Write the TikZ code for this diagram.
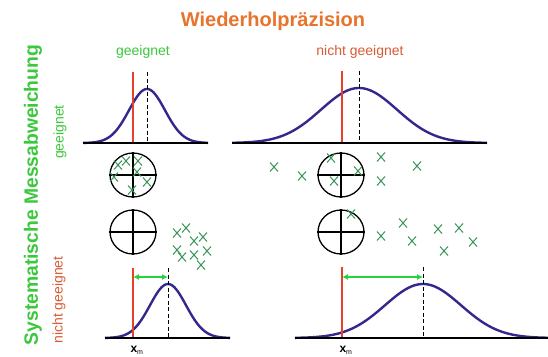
\documentclass[tikz,border=0pt]{standalone}
\usepackage{fontspec}
\setmainfont{Liberation Sans}
\usetikzlibrary{arrows.meta,shapes.geometric,shapes.misc}
\definecolor{titleorange}{RGB}{232,116,44}
\definecolor{okgreen}{RGB}{60,200,60}
\definecolor{badred}{RGB}{216,92,56}
\definecolor{linered}{RGB}{232,64,42}
\definecolor{curveblue}{RGB}{52,40,140}
\definecolor{crossgreen}{RGB}{58,150,90}
\definecolor{arrowgreen}{RGB}{40,210,60}
\tikzset{
  curve/.style={curveblue, line width=2.4pt, line join=round},
  baseline/.style={black, line width=2.8pt},
  redline/.style={linered, line width=2.4pt},
  meanline/.style={black, line width=0.9pt, dash pattern=on 4pt off 2.5pt},
  devarrow/.style={arrowgreen, line width=1.5pt, {Latex[length=6pt,width=6pt]}-{Latex[length=6pt,width=6pt]}},
  target/.style={ellipse, draw, line width=1.3pt, minimum width=46pt, minimum height=44pt, inner sep=0pt},
  hit/.style={cross out, draw=crossgreen, line width=1pt, minimum width=7pt, minimum height=8pt, inner sep=0pt},
  cross/.style={line width=1.3pt},
  lbl/.style={inner sep=0pt, font=\fontsize{14}{16}\selectfont},
}
\begin{document}
\begin{tikzpicture}[x=1pt,y=-1pt]
\useasboundingbox (0,0) rectangle (548,356);
\fill[white] (0,0) rectangle (548,356);

% titles
\node[inner sep=0pt, text=titleorange, font=\fontsize{20}{24}\selectfont\bfseries] (title) at (273,21) {Wiederholpräzision};
\node[lbl, text=okgreen] (colok) at (143,52) {geeignet};
\node[lbl, text=badred] (colbad) at (360,52) {nicht geeignet};
\node[inner sep=0pt, rotate=90, text=okgreen, font=\fontsize{19.3}{22}\selectfont\bfseries] (sysmess) at (33,195) {Systematische Messabweichung};
\node[lbl, rotate=90, text=okgreen] (rowok) at (60,132) {geeignet};
\node[lbl, rotate=90, text=badred] (rowbad) at (59,300) {nicht geeignet};

% ---------- top left ----------
\coordinate (bl1a) at (83,143); \coordinate (bl1b) at (208,143);
\draw[curve] plot[domain=-3.55:3.4, samples=90] ({147+18*\x},{143-54*exp(-\x*\x/2)});
\coordinate (r1t) at (133,72); \coordinate (r1b) at (133,143);
\coordinate (m1t) at (147,72); \coordinate (m1b) at (147,143);
\draw[redline] (r1t) -- (r1b);
\draw[meanline] (m1t) -- (m1b);
\draw[baseline] (bl1a) -- (bl1b);

% ---------- top right ----------
\coordinate (bl2a) at (232,143); \coordinate (bl2b) at (487,143);
\draw[curve] plot[domain=-3.34:3.37, samples=120] ({359+38*\x},{143-55*exp(-\x*\x/2)});
\coordinate (r2t) at (342,71); \coordinate (r2b) at (342,143);
\coordinate (m2t) at (359,71); \coordinate (m2b) at (359,143);
\draw[redline] (r2t) -- (r2b);
\draw[meanline] (m2t) -- (m2b);
\draw[baseline] (bl2a) -- (bl2b);

% ---------- bottom left ----------
\coordinate (bl3a) at (105,338); \coordinate (bl3b) at (230,338);
\draw[curve] plot[domain=-3.5:3.45, samples=90] ({168+18*\x},{338-54*exp(-\x*\x/2)});
\coordinate (r3t) at (133,268); \coordinate (r3b) at (133,338);
\coordinate (m3t) at (168,268); \coordinate (m3b) at (168,338);
\draw[redline] (r3t) -- (r3b);
\draw[meanline] (m3t) -- (m3b);
\draw[baseline] (bl3a) -- (bl3b);
\coordinate (a3l) at (133,277); \coordinate (a3r) at (168,277);
\draw[devarrow] (a3l) -- (a3r);
\node[inner sep=0pt, font=\fontsize{12}{14}\selectfont] (xm1) at (137,350) {\textbf{x}\textsubscript{\fontsize{7}{8}\selectfont m}};

% ---------- bottom right ----------
\coordinate (bl4a) at (295,338); \coordinate (bl4b) at (548,338);
\draw[curve] plot[domain=-3.37:3.29, samples=120] ({423+38*\x},{338-54*exp(-\x*\x/2)});
\coordinate (r4t) at (342,267); \coordinate (r4b) at (342,338);
\coordinate (m4t) at (423,267); \coordinate (m4b) at (423,338);
\draw[redline] (r4t) -- (r4b);
\draw[meanline] (m4t) -- (m4b);
\draw[baseline] (bl4a) -- (bl4b);
\coordinate (a4l) at (342,277); \coordinate (a4r) at (423,277);
\draw[devarrow] (a4l) -- (a4r);
\node[inner sep=0pt, font=\fontsize{12}{14}\selectfont] (xm2) at (346,350) {\textbf{x}\textsubscript{\fontsize{7}{8}\selectfont m}};

% ---------- targets ----------
\node[target] (t1) at (133,175) {};
\node[target] (t2) at (133,232) {};
\node[target] (t3) at (341,175) {};
\node[target] (t4) at (341,232) {};
\foreach \t in {t1,t2,t3,t4}{
  \draw[cross] (\t.north) -- (\t.south);
  \draw[cross] (\t.west) -- (\t.east);
}

% hits top left
\foreach \p [count=\i] in {(118,165),(126,161),(138,161),(137,172),(114,177),(147,182),(132,190)}
  \node[hit] (ha\i) at \p {};
% hits bottom left
\foreach \p [count=\i] in {(177,233),(186,228),(194,241),(203,237),(177,250),(182,257),(194,255),(207,251),(201,265)}
  \node[hit] (hb\i) at \p {};
% hits top right
\foreach \p [count=\i] in {(274,167),(302,176),(331,158),(358,171),(334,181),(381,157),(381,181),(417,166)}
  \node[hit] (hc\i) at \p {};
% hits bottom right
\foreach \p [count=\i] in {(351,214),(381,236),(403,223),(412,241),(438,229),(459,228),(444,251),(473,242)}
  \node[hit] (hd\i) at \p {};
\end{tikzpicture}
\end{document}
